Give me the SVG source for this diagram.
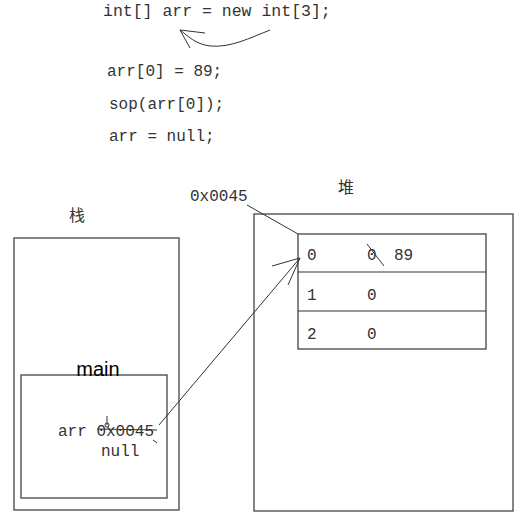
<svg xmlns="http://www.w3.org/2000/svg" width="523" height="525" viewBox="0 0 523 525">
<style>
.code{font-family:"Liberation Mono","DejaVu Sans Mono",monospace;font-size:16px;fill:#333}
.cjk{font-family:"Noto Sans CJK SC",sans-serif;font-size:16px;fill:#333}
.box{fill:none;stroke:#444;stroke-width:1.3}
.ln{fill:none;stroke:#333;stroke-width:1}
</style>
<rect width="523" height="525" fill="#fff"/>
<g id="code">
<text class="code" x="103" y="16" style="font-size:16.5px">int[] arr = new int[3];</text>
<text class="code" x="107" y="76">arr[0] = 89;</text>
<text class="code" x="109" y="109">sop(arr[0]);</text>
<text class="code" x="109" y="141">arr = null;</text>
</g>
<g id="stack">
<text class="cjk" x="69" y="221">栈</text>
<rect class="box" x="14" y="238" width="165" height="272"/>
</g>
<g id="main">
<rect class="box" x="21" y="375" width="146" height="123" stroke="#333"/>
<text x="98" y="376" text-anchor="middle" style="font-family:'Liberation Sans',Arial,sans-serif;font-size:20px;fill:#000">main</text>
<text class="code" x="58" y="436">arr 0x0045</text>
<text class="code" x="101" y="456">null</text>
<line class="ln" x1="97" y1="429" x2="157" y2="430"/>
<line class="ln" x1="107" y1="416" x2="107" y2="425"/>
<circle cx="107" cy="425" r="2" fill="none" stroke="#333"/>
<line class="ln" x1="153" y1="440" x2="157" y2="443"/>
</g>
<g id="heap">
<text class="cjk" x="338" y="193">堆</text>
<rect class="box" x="254" y="214" width="259" height="297" stroke="#222"/>
<text class="code" x="190" y="201">0x0045</text>
</g>
<g id="array">
<rect class="box" x="298" y="234" width="188" height="115"/>
<line class="ln" x1="298" y1="272" x2="486" y2="272"/>
<line class="ln" x1="298" y1="311" x2="486" y2="311"/>
<text class="code" x="307" y="260">0</text>
<text class="code" x="367" y="260">0</text>
<text class="code" x="394" y="260">89</text>
<line class="ln" x1="367" y1="244" x2="384" y2="266"/>
<text class="code" x="307" y="300">1</text>
<text class="code" x="367" y="300">0</text>
<text class="code" x="307" y="339">2</text>
<text class="code" x="367" y="339">0</text>
</g>
<g id="connectors">
<path class="ln" d="M270,30 C250,38 230,48 210,46 C195,44 188,36 180,30"/>
<line class="ln" x1="180" y1="30" x2="205" y2="33"/>
<line class="ln" x1="180" y1="30" x2="190" y2="48"/>
<line class="ln" x1="247" y1="205" x2="298" y2="234"/>
<line class="ln" x1="159" y1="425" x2="300" y2="258"/>
<line class="ln" x1="272" y1="266" x2="300" y2="258"/>
<line class="ln" x1="288" y1="285" x2="300" y2="258"/>
</g>
</svg>
